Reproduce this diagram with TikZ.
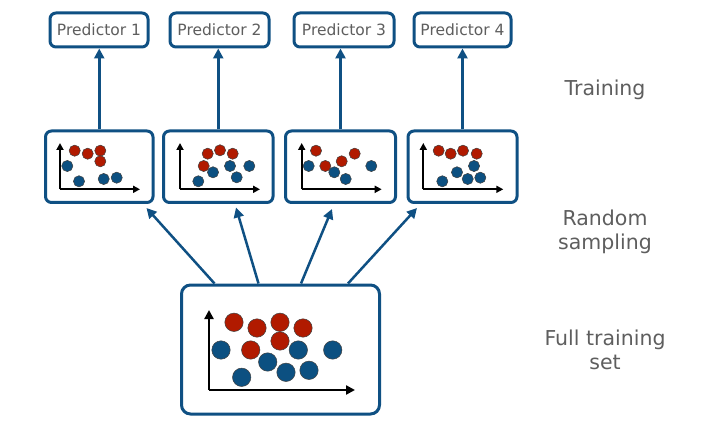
\documentclass[tikz,border=0pt]{standalone}
\usepackage{fontspec}
\setmainfont{DejaVu Sans}
\usetikzlibrary{arrows.meta,calc}
\definecolor{boxblue}{HTML}{0F5083}
\definecolor{dotred}{HTML}{B11A00}
\definecolor{dotblue}{HTML}{0C5081}
\definecolor{txtgray}{HTML}{5E5E5E}
\begin{document}
\begin{tikzpicture}[x=1pt,y=-1pt,
  pbox/.style={draw=boxblue,line width=3pt,rounded corners=6pt,fill=white,inner sep=0pt,minimum height=34pt,font=\fontsize{15.5}{18}\selectfont,text=txtgray},
  sbox/.style={draw=boxblue,line width=3pt,rounded corners=6pt,fill=white,inner sep=0pt,minimum height=71.5pt},
  bbox/.style={draw=boxblue,line width=3pt,rounded corners=9pt,fill=white,inner sep=0pt,minimum width=198pt,minimum height=129pt},
  conn/.style={draw=boxblue,line width=2.5pt,-{Triangle[length=10pt,width=10pt]}},
  saxis/.style={draw=black,line width=1.9pt,-{Triangle[length=7pt,width=7pt]}},
  baxis/.style={draw=black,line width=2.3pt,-{Triangle[length=9pt,width=9pt]}},
  sred/.style={fill=dotred,draw=black!75,line width=0.5pt},
  sblue/.style={fill=dotblue,draw=black!75,line width=0.5pt},
  lbl/.style={text=txtgray,font=\fontsize{20.5}{23.5}\selectfont,align=center,inner sep=0pt}]
\useasboundingbox (0,0) rectangle (714,430);

% predictor boxes
\node[pbox,minimum width=98pt] (p1) at (99,30) {Predictor 1};
\node[pbox,minimum width=99pt] (p2) at (219.5,30) {Predictor 2};
\node[pbox,minimum width=100pt] (p3) at (344,30) {Predictor 3};
\node[pbox,minimum width=97pt] (p4) at (462.5,30) {Predictor 4};

% sample boxes
\node[sbox,minimum width=107.5pt] (s1) at (99.25,166.75) {};
\node[sbox,minimum width=109.5pt] (s2) at (218.25,166.75) {};
\node[sbox,minimum width=110pt] (s3) at (340.5,166.75) {};
\node[sbox,minimum width=109pt] (s4) at (462.5,166.75) {};

% full training set box
\node[bbox] (big) at (280.5,349.5) {};

% labels
\node[lbl] (l1) at (605,90) {Training};
\node[lbl] (l2) at (605,232) {Random\\sampling};
\node[lbl] (l3) at (605,350) {Full training\\set};

% training arrows
\foreach \i in {1,2,3,4}
  \draw[conn] (s\i.north) -- (s\i.north |- p\i.south);

% sampling arrows
\coordinate (a1) at ($(big.north west)+(34.5,0)$);
\coordinate (a2) at ($(big.north west)+(78.5,0)$);
\coordinate (a3) at ($(big.north west)+(121,0)$);
\coordinate (a4) at ($(big.north west)+(168,0)$);
\coordinate (t1) at ($(s1.south east)+(-8,4)$);
\coordinate (t2) at ($(s2.south west)+(74,3.5)$);
\coordinate (t3) at ($(s3.south west)+(48,5)$);
\coordinate (t4) at ($(s4.south west)+(10.5,4)$);
\foreach \i in {1,2,3,4}
  \draw[conn] (a\i) -- (t\i);

% small scatter plots
\foreach \ox in {60,180,301.7,423.3}{
  \draw[saxis] (\ox,189.3) -- (\ox,143);
  \draw[saxis] (\ox,189.3) -- (\ox+80,189.3);
}
% box 1
\foreach \x/\y in {74.7/150.7,87.7/153.7,100.3/150.7,100.3/161.3}
  \draw[sred] (\x,\y) circle[radius=5.6pt];
\foreach \x/\y in {67.3/166,79/181.3,103.7/179,116.7/177.7}
  \draw[sblue] (\x,\y) circle[radius=5.6pt];
% box 2
\foreach \x/\y in {207.7/153.7,220/150.3,232.7/153.7,203.7/166}
  \draw[sred] (\x,\y) circle[radius=5.6pt];
\foreach \x/\y in {213/172.3,230/166,249.3/166,236.7/177.3,198.3/181.3}
  \draw[sblue] (\x,\y) circle[radius=5.6pt];
% box 3
\foreach \x/\y in {316/150.7,325.3/166,341.7/161.3,354.7/153.7}
  \draw[sred] (\x,\y) circle[radius=5.6pt];
\foreach \x/\y in {308.7/166,334.3/172.3,345.7/179,371.3/166}
  \draw[sblue] (\x,\y) circle[radius=5.6pt];
% box 4
\foreach \x/\y in {438.7/150.7,450.7/153.7,463/150.7,476.7/153.7}
  \draw[sred] (\x,\y) circle[radius=5.6pt];
\foreach \x/\y in {474/166,457/172.3,467.7/179,480.3/177.7,442.3/181.3}
  \draw[sblue] (\x,\y) circle[radius=5.6pt];

% big scatter plot
\draw[baxis] (209,390) -- (209,310);
\draw[baxis] (209,390) -- (355,390);
\foreach \x/\y in {234/322.3,257/328,280/322.3,303/328,280/341,250.7/350}
  \draw[sred] (\x,\y) circle[radius=9.2pt];
\foreach \x/\y in {221/350,298.3/350,332.7/350,267.7/362,286/372.3,309/370.3,241.7/377.3}
  \draw[sblue] (\x,\y) circle[radius=9.2pt];
\end{tikzpicture}
\end{document}
